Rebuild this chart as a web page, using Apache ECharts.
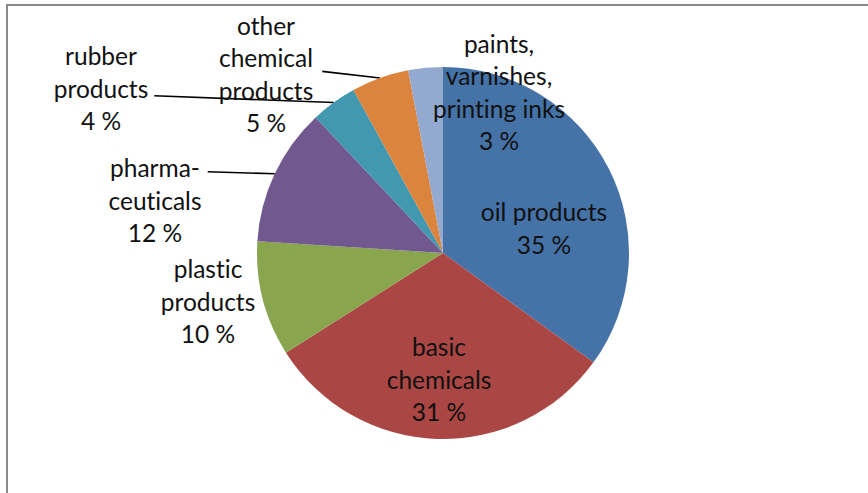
<!DOCTYPE html>
<html>
<head>
<meta charset="utf-8">
<script src="https://cdn.jsdelivr.net/npm/echarts@6/dist/echarts.min.js"></script>
<style>
  html, body { margin: 0; padding: 0; background: #fff; }
  #chart { width: 868px; height: 493px; }
  #chart text { font-variant-ligatures: none !important; }
</style>
</head>
<body>
<div id="chart"></div>
<script>
// Output of the chemical industry by branch, percent share
const categories = [
  'oil products',
  'basic\nchemicals',
  'plastic\nproducts',
  'pharma-\nceuticals',
  'rubber\nproducts',
  'other\nchemical\nproducts',
  'paints,\nvarnishes,\nprinting inks'
];
const shares = [35, 31, 10, 12, 4, 5, 3];
const colors = ['#4572A7', '#AA4643', '#89A54E', '#71588F', '#4198AF', '#DB843D', '#93A9CF'];

// label placement: 'inside' on the slice, 'free' beside it, 'leader' beside it with a line
const labelMode = ['inside', 'inside', 'free', 'leader', 'leader', 'leader', 'inside'];
// label block centres (pixels)
const labelCentres = [
  [544, 228],
  [439, 379],
  [208, 301],
  [155, 200],
  [101, 88],
  [266, 74],
  [499, 92]
];
// where the leader line leaves the label block, as a fraction of its height
const leaderRow = [0, 0, 0, 0.21, 0.58, 0.48, 0];
const leaderGap = [0, 0, 0, 6, 6, 9, 0];
const LINE_H = 32.5;

const chart = echarts.init(document.getElementById('chart'), null, { renderer: 'svg' });

const data = categories.map((name, i) => ({
  name: name,
  value: shares[i],
  itemStyle: { color: colors[i] },
  label: { position: labelMode[i] === 'inside' ? 'inside' : 'outside' },
  labelLine: { show: labelMode[i] === 'leader' }
}));

chart.setOption({
  animation: false,
  graphic: [{
    type: 'rect',
    shape: { x: 7, y: 5, width: 1000, height: 1000 },
    style: { fill: 'none', stroke: '#8a8a8a', lineWidth: 2 },
    silent: true
  }],
  series: [{
    type: 'pie',
    center: [443, 253],
    radius: 186,
    startAngle: 90,
    clockwise: true,
    avoidLabelOverlap: false,
    data: data,
    itemStyle: { borderWidth: 0 },
    label: {
      show: true,
      fontFamily: 'Lato',
      fontSize: 24.5,
      lineHeight: LINE_H,
      color: '#111',
      align: 'center',
      formatter: p => p.name + '\n' + p.value + ' %'
    },
    labelLine: {
      show: true,
      length: 10,
      length2: 0,
      lineStyle: { color: '#000', width: 1.6 }
    },
    labelLayout: function (params) {
      const i = params.dataIndex;
      const c = labelCentres[i];
      const out = { x: c[0], y: c[1], align: 'center', verticalAlign: 'middle' };
      if (labelMode[i] === 'leader' && params.labelLinePoints) {
        const r = params.labelRect;
        const start = params.labelLinePoints[0];
        const end = [c[0] + r.width / 2 + leaderGap[i], c[1] - r.height / 2 + r.height * leaderRow[i]];
        out.labelLinePoints = [start, end];
      }
      return out;
    }
  }]
});
</script>
</body>
</html>
